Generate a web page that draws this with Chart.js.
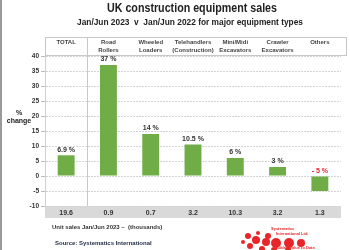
<!DOCTYPE html>
<html>
<head>
<meta charset="utf-8">
<script src="https://cdn.jsdelivr.net/npm/chart.js@4"></script>
<style>
  html, body { margin: 0; padding: 0; background: #fff; }
  #wrap { width: 350px; height: 250px; }
</style>
</head>
<body>
<div id="wrap"><canvas id="salesChart" width="350" height="250"></canvas></div>
<script>
// equipment types (header row) and their % change Jan/Jun 2023 v 2022
const categories = [
  ['TOTAL', ''],
  ['Road', 'Rollers'],
  ['Wheeled', 'Loaders'],
  ['Telehandlers', '(Construction)'],
  ['Mini/Midi', 'Excavators'],
  ['Crawler', 'Excavators'],
  ['Others', '']
];
const pctChange = [6.9, 37, 14, 10.5, 6, 3, -5];
// unit sales Jan/Jun 2023 in thousands (bottom band)
const unitSales = ['19.6', '0.9', '0.7', '3.2', '10.3', '3.2', '1.3'];
const yTicks = { min: -10, max: 40, step: 5 };

const FONT = "'Liberation Sans', Arial, sans-serif";

function pctText(v) {
  return v < 0 ? '- ' + Math.abs(v) + ' %' : v + ' %';
}

// draw centred text squeezed to a given width (the original uses a narrow face)
function squeezedText(ctx, text, cx, cy, width) {
  const w = ctx.measureText(text).width;
  const k = Math.min(1, width / w);
  ctx.save();
  ctx.translate(cx, cy);
  ctx.scale(k, 1);
  ctx.fillText(text, 0, 0);
  ctx.restore();
}

// background pieces: frame, header box, grey band
const backdrop = {
  id: 'backdrop',
  beforeDraw(chart) {
    const ctx = chart.ctx;
    const a = chart.chartArea;
    ctx.save();
    ctx.fillStyle = '#9a9a9a';
    ctx.fillRect(0, 0, 2, 250);
    // unit sales band
    ctx.fillStyle = '#d9d9d9';
    ctx.fillRect(a.left, a.bottom, a.right - a.left, 12);
    // header box
    ctx.strokeStyle = '#c8c8c8';
    ctx.lineWidth = 1;
    ctx.strokeRect(a.left + 0.5, 37.5, 301, 18);
    const xs = chart.scales.x;
    const sep = (xs.getPixelForValue(0) + xs.getPixelForValue(1)) / 2;
    ctx.beginPath();
    ctx.moveTo(Math.round(sep) + 0.5, 37.5);
    ctx.lineTo(Math.round(sep) + 0.5, a.bottom);
    ctx.stroke();
    ctx.restore();
  },
  afterDraw(chart) {
    const ctx = chart.ctx;
    ctx.save();
    ctx.fillStyle = '#222';
    ctx.textAlign = 'center';
    ctx.textBaseline = 'middle';
    ctx.font = 'bold 13px ' + FONT;
    squeezedText(ctx, 'UK construction equipment sales', 192, 8, 170);
    ctx.font = 'bold 9.5px ' + FONT;
    squeezedText(ctx, 'Jan/Jun 2023  v  Jan/Jun 2022 for major equipment types', 190, 22, 226);

    ctx.font = 'bold 7px ' + FONT;
    ctx.fillText('%', 19, 113);
    ctx.fillText('change', 19, 121);

    ctx.textAlign = 'left';
    ctx.font = 'bold 6px ' + FONT;
    ctx.fillStyle = '#333';
    ctx.fillText('Unit sales Jan/Jun 2023 \u2013  (thousands)', 52, 227);
    ctx.fillStyle = '#1f2a44';
    ctx.fillText('Source: Systematics International', 55, 243);

    // logo dots
    ctx.fillStyle = '#e8262a';
    const dots = [[248, 236, 3], [256, 240, 4], [266, 242, 4], [250, 246, 3], [262, 249, 3],
                  [276, 243, 5], [289, 243, 5], [301, 243, 4], [274, 250, 3], [288, 250, 3],
                  [243, 242, 2], [268, 236, 3], [258, 233, 2]];
    dots.forEach(d => { ctx.beginPath(); ctx.arc(d[0], d[1], d[2], 0, Math.PI * 2); ctx.fill(); });
    ctx.font = 'bold 4px ' + FONT;
    ctx.fillText('Systematics', 271, 229);
    ctx.fillText('International Ltd.', 276, 234);
    ctx.fillText('Added Value to Data', 276, 248);
    ctx.restore();
  }
};

// value labels above bars
const barLabels = {
  id: 'barLabels',
  afterDatasetsDraw(chart) {
    const ctx = chart.ctx;
    const meta = chart.getDatasetMeta(0);
    ctx.save();
    ctx.font = 'bold 7px ' + FONT;
    ctx.textAlign = 'center';
    ctx.textBaseline = 'bottom';
    meta.data.forEach((bar, i) => {
      const v = pctChange[i];
      const top = v < 0 ? bar.base : bar.y;
      ctx.fillStyle = v < 0 ? '#e8262a' : '#333';
      ctx.fillText(pctText(v), bar.x, top - 2);
    });
    ctx.restore();
  }
};

const ctx = document.getElementById('salesChart').getContext('2d');
new Chart(ctx, {
  type: 'bar',
  data: {
    labels: categories,
    datasets: [{
      data: pctChange,
      backgroundColor: '#70ad47',
      borderWidth: 0,
      barPercentage: 0.4,
      categoryPercentage: 1.0
    }]
  },
  options: {
    responsive: false,
    animation: false,
    layout: { padding: { top: 37, bottom: 32, left: 0, right: 9 } },
    plugins: {
      legend: { display: false },
      tooltip: { enabled: false }
    },
    scales: {
      x: {
        position: 'top',
        afterFit(scale) { scale.height = 19; },
        grid: {
          drawTicks: false,
          color: (c) => c.index === 0 ? '#d0d0d0' : 'transparent'
        },
        border: { display: false },
        ticks: {
          autoSkip: false,
          color: '#444',
          padding: 2,
          maxRotation: 0,
          font: { family: FONT, size: 6, weight: 'bold', lineHeight: 1.3 }
        }
      },
      x2: {
        type: 'category',
        labels: unitSales,
        position: 'bottom',
        afterFit(scale) { scale.height = 12; },
        grid: { display: false, drawTicks: false },
        border: { display: false },
        ticks: {
          autoSkip: false,
          color: '#333',
          padding: 3,
          maxRotation: 0,
          font: { family: FONT, size: 7, weight: 'bold' }
        }
      },
      y: {
        min: yTicks.min,
        max: yTicks.max,
        afterFit(scale) { scale.width = 45; },
        grid: {
          color: '#d4d4d4',
          tickColor: '#bbb',
          tickLength: 4
        },
        border: { display: true, color: '#d0d0d0', dash: [2, 1] },
        ticks: {
          stepSize: yTicks.step,
          color: '#333',
          padding: 2,
          font: { family: FONT, size: 6.5, weight: 'bold' }
        }
      }
    }
  },
  plugins: [backdrop, barLabels]
});
</script>
</body>
</html>
